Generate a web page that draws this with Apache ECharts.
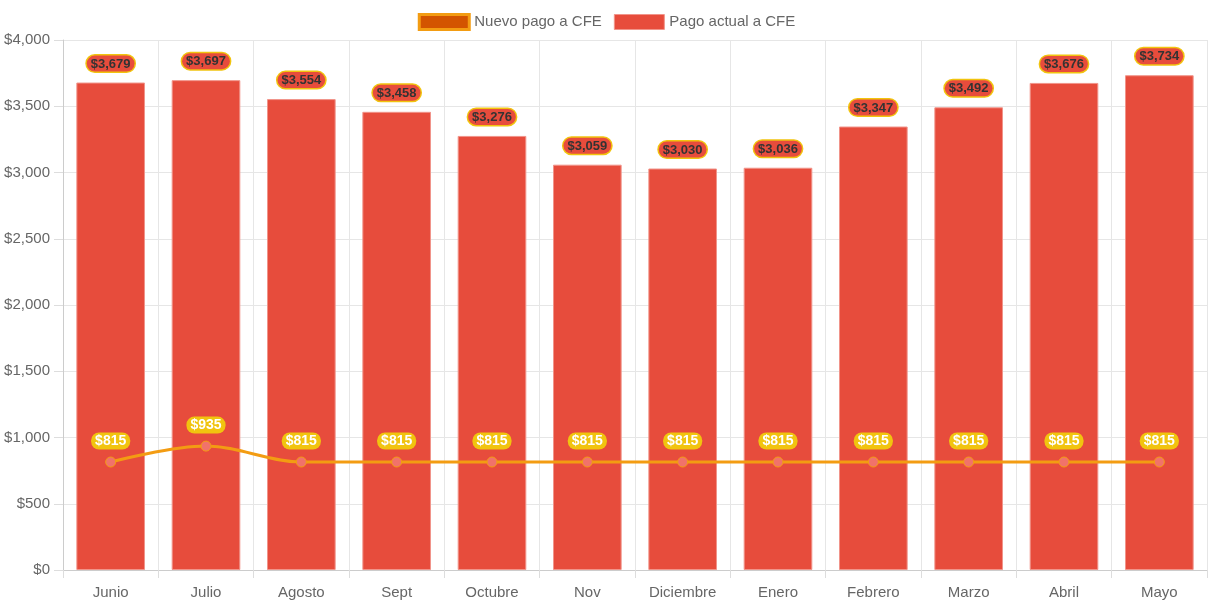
<!DOCTYPE html>
<html><head><meta charset="utf-8">
<script src="https://cdn.jsdelivr.net/npm/echarts@6/dist/echarts.min.js"></script>
<style>html,body{margin:0;padding:0;background:#fff}#c{width:1213px;height:606px}</style>
</head><body><div id="c"></div>
<script>
const categories = ['Junio','Julio','Agosto','Sept','Octubre','Nov','Diciembre','Enero','Febrero','Marzo','Abril','Mayo'];
const pagoActual = [3679,3697,3554,3458,3276,3059,3030,3036,3347,3492,3676,3734];
const nuevoPago = [815,935,815,815,815,815,815,815,815,815,815,815];

const fmt = v => '$' + Number(v).toLocaleString('en-US');
const chart = echarts.init(document.getElementById('c'));
chart.setOption({
  animation: false,
  textStyle: {fontFamily: 'Liberation Sans, Arial, sans-serif'},
  legend: {
    top: 8, left: 'center', itemWidth: 50, itemHeight: 15, itemGap: 12,
    textStyle: {color: '#666', fontSize: 15},
    data: [
      {name: 'Nuevo pago a CFE', icon: 'rect', itemStyle: {color: '#d35400', borderColor: '#f39c12', borderWidth: 3}},
      {name: 'Pago actual a CFE', icon: 'rect', itemStyle: {color: '#e74c3c', borderColor: '#f1948a', borderWidth: 1}}
    ]
  },
  grid: {left: 63, right: 6, top: 40, bottom: 36},
  xAxis: {
    type: 'category', data: categories, boundaryGap: true,
    axisLine: {show: true, lineStyle: {color: '#ccc'}},
    axisTick: {show: true, length: 8, lineStyle: {color: '#ddd'}},
    splitLine: {show: true, lineStyle: {color: '#e6e6e6'}},
    axisLabel: {color: '#666', fontSize: 15, margin: 15}
  },
  yAxis: {
    type: 'value', min: 0, max: 4000, interval: 500,
    axisLine: {show: true, lineStyle: {color: '#ccc'}},
    axisTick: {show: true, length: 9, lineStyle: {color: '#ddd'}},
    splitLine: {show: true, lineStyle: {color: '#e6e6e6'}},
    axisLabel: {color: '#666', fontSize: 15, margin: 13, formatter: fmt}
  },
  series: [
    {
      name: 'Nuevo pago a CFE', type: 'line', data: nuevoPago, smooth: 0.35, z: 5,
      lineStyle: {color: '#f39c12', width: 3},
      symbol: 'circle', symbolSize: 10,
      itemStyle: {color: '#f1726a', borderColor: '#f39c12', borderWidth: 1},
      label: {
        show: true, position: 'top', distance: 7, formatter: p => fmt(p.value),
        color: '#fff', fontWeight: 'bold', fontSize: 14,
        backgroundColor: '#f1c40f', borderRadius: 8, padding: [2, 4, 1, 4]
      }
    },
    {
      name: 'Pago actual a CFE', type: 'bar', data: pagoActual, barWidth: '72%', z: 2,
      itemStyle: {color: '#e74c3c', borderColor: '#f1948a', borderWidth: 1},
      label: {
        show: true, position: 'top', distance: 11, formatter: p => fmt(p.value),
        color: '#333', fontWeight: 'bold', fontSize: 13,
        backgroundColor: '#e74c3c', borderColor: '#f1c40f', borderWidth: 1.5, borderRadius: 8, padding: [2, 4, 1, 4]
      }
    }
  ]
});
</script></body></html>
